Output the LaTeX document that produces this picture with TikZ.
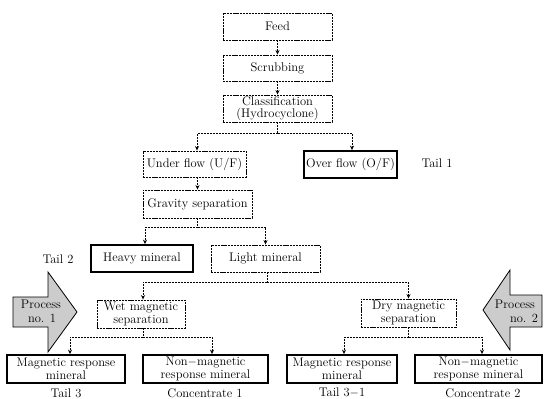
\documentclass[tikz,border=0pt]{standalone}
\usetikzlibrary{arrows.meta,calc}
\begin{document}
\begin{tikzpicture}[x=1pt,y=-1pt,
  txt/.style={font=\fontsize{12.5}{12.5}\selectfont},
  bx/.style={txt, draw, line width=0.9pt, dash pattern=on 2.2pt off 0.9pt, inner sep=0pt, align=center},
  tbx/.style={txt, draw, line width=1.8pt, inner sep=0pt, align=center},
  ln/.style={line width=0.8pt, dash pattern=on 2pt off 1pt},
  arr/.style={ln, -{Stealth[length=4.5pt,width=4pt]}},
  lbl/.style={txt, inner sep=0pt},
  blk/.style={draw, line width=0.8pt, fill=gray!40}
]
\useasboundingbox (0,0) rectangle (544,399);

% boxes
\node[bx, minimum width=109, minimum height=27] (feed) at (277.5,26.5) {Feed};
\node[bx, minimum width=109, minimum height=26] (scrub) at (277.5,68) {Scrubbing};
\node[bx, minimum width=109, minimum height=27] (class) at (277.5,108.5) {Classification\\(Hydrocyclone)};
\node[bx, minimum width=103, minimum height=26] (under) at (194.5,164) {Under flow (U/F)};
\node[tbx, minimum width=93, minimum height=27] (over) at (350.5,164.5) {Over flow (O/F)};
\node[lbl] (t1) at (437,163) {Tail 1};
\node[bx, minimum width=109, minimum height=28] (grav) at (197.5,204) {Gravity separation};
\node[tbx, minimum width=102, minimum height=27] (heavy) at (142,258.5) {Heavy mineral};
\node[lbl] (t2) at (58,259) {Tail 2};
\node[bx, minimum width=109, minimum height=27] (light) at (265.5,258.5) {Light mineral};
\node[bx, minimum width=88, minimum height=28] (wet) at (141,314) {Wet magnetic\\separation};
\node[bx, minimum width=95, minimum height=28] (dry) at (408.5,313) {Dry magnetic\\separation};
\node[tbx, minimum width=118, minimum height=28] (magL) at (66,369) {Magnetic response\\mineral};
\node[tbx, minimum width=125, minimum height=28] (nmagL) at (205.5,369) {Non$-$magnetic\\response mineral};
\node[tbx, minimum width=110, minimum height=28] (magR) at (342,369) {Magnetic response\\mineral};
\node[tbx, minimum width=127, minimum height=28] (nmagR) at (478.5,369) {Non$-$magnetic\\response mineral};
\node[lbl] (t3) at (66,393) {Tail 3};
\node[lbl] (c1) at (205,393) {Concentrate 1};
\node[lbl] (t31) at (342,393) {Tail 3$-$1};
\node[lbl] (c2) at (483,393) {Concentrate 2};

% connectors
\draw[arr] (feed) -- (scrub);
\draw[arr] (scrub) -- (class);
\draw[ln] (class.south) -- ++(0,11) coordinate (j1);
\draw[arr] (j1) -| ([xshift=2.5pt]under.north);
\draw[arr] (j1) -| ([xshift=1.5pt]over.north);
\draw[arr] (grav.north |- under.south) -- (grav.north);
\draw[ln] (grav.south) -- ++(0,9) coordinate (j2);
\draw[arr] (j2) -| ([xshift=3pt]heavy.north);
\draw[arr] (j2) -| (light.north);
\draw[ln] ([xshift=1.5pt]light.south) -- ++(0,10) coordinate (j3);
\draw[arr] (j3) -| ([xshift=2pt]wet.north);
\draw[arr] (j3) -| (dry.north);
\draw[ln] ([xshift=2pt]wet.south) -- ++(0,9) coordinate (j4);
\draw[arr] (j4) -| ([xshift=4pt]magL.north);
\draw[arr] (j4) -| ([xshift=6.5pt]nmagL.north);
\draw[ln] (dry.south) -- ++(0,10) coordinate (j5);
\draw[arr] (j5) -| ([xshift=2pt]magR.north);
\draw[arr] (j5) -| ([xshift=3.5pt]nmagR.north);

% block arrows
\draw[blk] (13,297) -- (48,297) -- (48,272) -- (77,312) -- (48,352) -- (48,327) -- (13,327) -- cycle;
\node[lbl] (p1a) at (41,304) {Process};
\node[lbl] (p1b) at (42,318) {no. 1};
\draw[blk] (542,295) -- (510,295) -- (510,270) -- (483,310) -- (510,350) -- (510,327) -- (542,327) -- cycle;
\node[lbl] (p2a) at (515,304) {Process};
\node[lbl] (p2b) at (524,318) {no. 2};
\end{tikzpicture}
\end{document}
